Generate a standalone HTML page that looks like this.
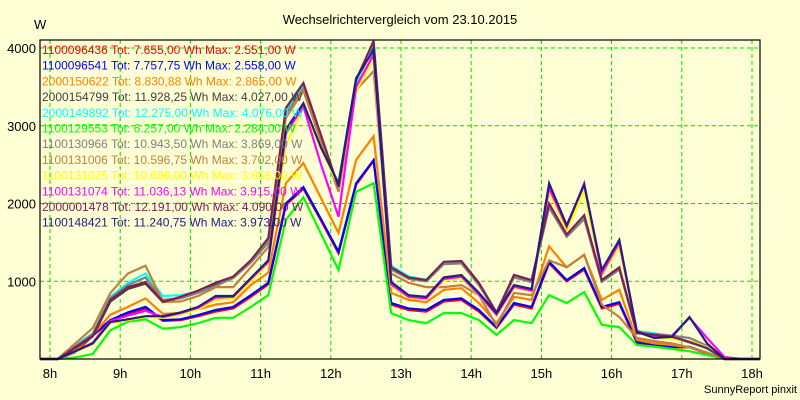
<!DOCTYPE html>
<html><head><meta charset="utf-8"><style>
body{margin:0;background:#ffffd5;}
svg{display:block;font-family:"Liberation Sans",Arial,sans-serif;}
</style></head><body>
<svg id="chart" width="800" height="400">
<rect x="0" y="0" width="800" height="400" fill="#ffffd5"/>
<text x="400" y="24" text-anchor="middle" font-size="13" fill="#000">Wechselrichtervergleich vom 23.10.2015</text>
<text x="34" y="29" font-size="13" fill="#000">W</text>
<text x="797" y="393" text-anchor="end" font-size="11" fill="#000">SunnyReport pinxit</text>
<g id="grid"></g>
<g id="yticks"></g>
<g id="xticks"></g>
<g id="series"></g>
<g id="legend"></g>
<rect x="40" y="40" width="720" height="319" fill="none" stroke="#000" stroke-width="1.2"/>
</svg>
<script>
const times = [7.86,8.11,8.36,8.61,8.86,9.11,9.36,9.61,9.86,10.11,10.36,10.61,10.86,11.11,11.36,11.61,11.86,12.11,12.36,12.61,12.86,13.11,13.36,13.61,13.86,14.11,14.36,14.61,14.86,15.11,15.36,15.61,15.86,16.11,16.36,16.61,16.86,17.11,17.36,17.61,17.86,18.11];
const yTicks = [1000,2000,3000,4000];
const xTicks = [8,9,10,11,12,13,14,15,16,17,18];
const names = ["1100096436","1100096541","2000150622","2000154799","2000149892","1100129553","1100130966","1100131006","1100131025","1100131074","2000001478","1100148421"];
const totals = ["7.655,00","7.757,75","8.830,88","11.928,25","12.275,00","6.257,00","10.943,50","10.596,75","10.696,00","11.036,13","12.191,00","11.240,75"];
const maxes = ["2.551,00","2.558,00","2.865,00","4.027,00","4.076,00","2.284,00","3.869,00","3.702,00","3.858,00","3.915,00","4.090,00","3.973,00"];
const colors = ["#ff0000","#0000ff","#ff8000","#404040","#00ffff","#00ff00","#808080","#c08040","#ffff00","#ff00ff","#802050","#202080"];
const sRed = [0,0,85,300,480,580,650,490,500,550,610,650,800,960,1980,2190,1780,1360,2240,2551,700,630,610,740,760,610,400,700,650,1230,1000,1150,650,710,210,170,150,150,70,0,0,0];
const sBlue = [0,0,90,310,500,600,670,500,510,565,630,670,820,980,2000,2210,1800,1380,2260,2558,720,650,630,760,780,630,410,720,670,1250,1015,1170,670,730,220,180,155,155,80,0,0,0];
const sOrange = [0,0,100,310,570,670,780,580,590,640,700,730,950,1110,2260,2520,2070,1620,2560,2865,850,760,730,890,910,720,460,800,760,1450,1180,1340,760,890,245,200,180,150,80,0,0,0];
const sDarkGray = [0,0,140,290,740,900,970,730,790,870,960,1050,1250,1530,3200,3520,2860,2200,3560,4027,1170,1040,1005,1240,1250,970,590,1070,1005,1980,1580,1830,1005,1160,330,305,280,215,135,0,0,0];
const sCyan = [0,0,180,330,800,980,1100,810,820,870,930,1060,1260,1540,3180,3500,2850,2200,3550,4076,1200,1060,1020,1250,1240,960,580,1060,1000,1960,1600,1820,1000,1170,360,330,300,220,130,0,0,0];
const sGreen = [0,0,20,65,370,480,510,390,410,460,530,530,670,820,1790,2080,1610,1145,2150,2260,590,500,460,590,590,500,310,500,460,820,720,860,440,410,180,160,130,100,50,0,0,0];
const sGray = [0,0,160,320,780,950,1050,760,780,850,940,1040,1240,1500,3150,3480,2830,2180,3500,3869,1150,1030,1000,1220,1230,950,590,1050,990,1950,1570,1800,990,1150,340,320,300,270,170,0,0,0];
const sTan = [0,0,200,400,850,1100,1200,735,740,810,925,925,1180,1440,3100,3450,2800,2150,3460,3702,1100,980,925,925,950,820,430,850,820,1270,1180,1340,700,540,270,230,200,150,80,0,0,0];
const sYellow = [0,0,90,190,460,500,540,530,570,640,760,780,1000,1230,2750,3230,2700,2230,3450,3858,940,790,770,1010,1040,820,560,920,870,2150,1650,2150,1080,1450,340,270,260,230,150,0,0,0];
const sMagenta = [0,0,100,210,490,560,620,540,590,660,790,800,1030,1250,2900,3250,2500,1830,3500,3915,960,800,780,1030,1060,830,570,930,880,2200,1700,2260,1100,1500,360,290,300,530,270,25,0,0];
const sMaroon = [0,0,150,300,760,925,990,735,800,880,980,1060,1270,1555,3230,3550,2880,2210,3590,4090,1180,1050,1015,1250,1260,980,600,1080,1015,2000,1600,1850,1015,1180,335,310,285,220,140,0,0,0];
const sNavy = [0,0,100,200,475,510,550,550,600,670,810,810,1040,1270,2950,3290,2720,2260,3610,3973,990,820,800,1050,1080,850,590,950,900,2260,1720,2240,1145,1530,350,270,285,540,200,0,0,0];
const allSeries = [sRed,sBlue,sOrange,sDarkGray,sCyan,sGreen,sGray,sTan,sYellow,sMagenta,sMaroon,sNavy];

const NS="http://www.w3.org/2000/svg";
function xScale(h){return 50+(h-8)*70.2;}
function yScale(v){return 359-v*0.07775;}
function mk(tag,attrs,parent){const e=document.createElementNS(NS,tag);for(const k in attrs)e.setAttribute(k,attrs[k]);parent.appendChild(e);return e;}
const grid=document.getElementById('grid'),yt=document.getElementById('yticks'),xt=document.getElementById('xticks'),ser=document.getElementById('series'),leg=document.getElementById('legend');
yTicks.forEach(v=>{
  const l=mk('line',{x1:40,x2:760,y1:yScale(v),y2:yScale(v),stroke:'#00e000','stroke-width':1,'stroke-dasharray':'4,3'},grid);
  
  
  const t=mk('text',{x:36,y:yScale(v)+5,'text-anchor':'end','font-size':13,fill:'#000'},yt);
  t.textContent=v;
  
  
});
xTicks.forEach(h=>{
  const l=mk('line',{x1:xScale(h),x2:xScale(h),y1:40,y2:359,stroke:'#00e000','stroke-width':1,'stroke-dasharray':'4,3'},grid);
  
  
  const t=mk('text',{x:xScale(h),y:378,'text-anchor':'middle','font-size':13,fill:'#000'},xt);
  t.textContent=h+'h';
  
  
});
allSeries.forEach((s,i)=>{
  const pts=s.map((v,k)=>xScale(times[k]).toFixed(1)+','+yScale(v).toFixed(1)).join(' ');
  const p=mk('polyline',{points:pts,fill:'none',stroke:colors[i],'stroke-width':2.2,'stroke-linejoin':'miter'},ser);
  
  
});
names.forEach((n,i)=>{
  const t=mk('text',{x:42,y:54+i*15.7,'font-size':12,fill:colors[i]},leg);
  t.textContent=n+' Tot: '+totals[i]+' Wh Max: '+maxes[i]+' W';
  
  
});
</script>
</body></html>
